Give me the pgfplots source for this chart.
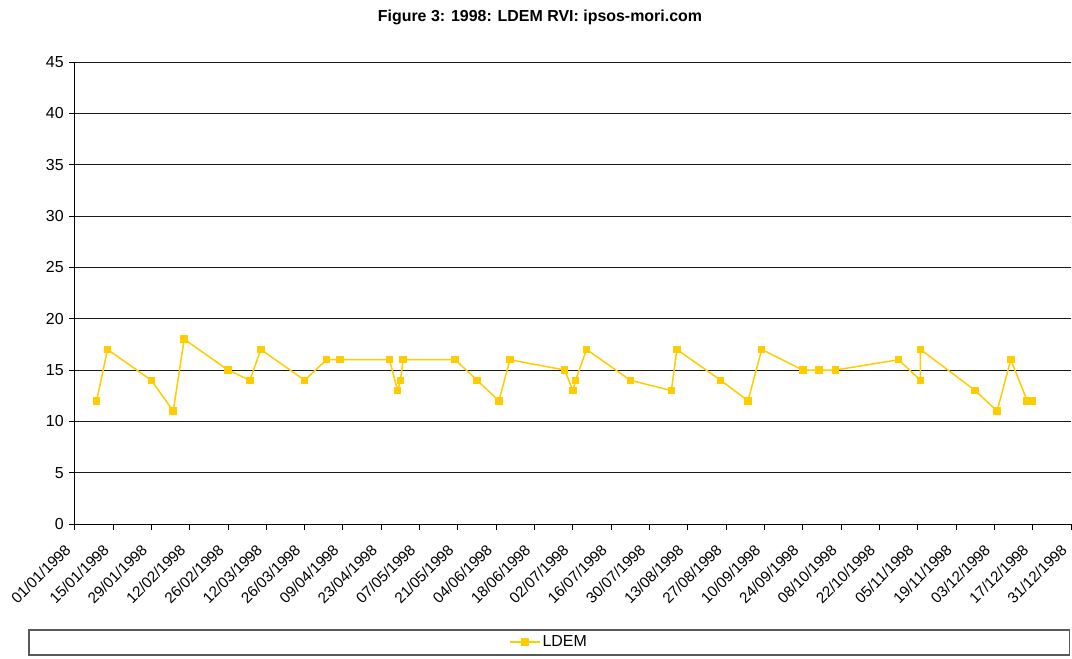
\documentclass[border=0pt]{standalone}
\usepackage{pgfplots}
\pgfplotsset{compat=1.18}
\usepackage{fontspec}
\setmainfont{Liberation Sans}
\definecolor{ldem}{HTML}{FFCC00}
\begin{document}
\begin{tikzpicture}
\useasboundingbox (0,0) rectangle (1072bp,659bp);
\begin{axis}[
  at={(74.7bp,135bp)}, anchor=south west,
  scale only axis, width=996.3bp, height=462bp,
  xmin=0, xmax=364, ymin=0, ymax=45,
  axis x line*=bottom, axis y line*=left,
  axis line style={black, line width=0.9bp},
  tick align=outside, major tick length=5.5bp,
  tick style={black, line width=0.9bp},
  ytick={0,5,...,45},
  xtick={0,14,...,364},
  xticklabels={01/01/1998,15/01/1998,29/01/1998,12/02/1998,26/02/1998,12/03/1998,26/03/1998,09/04/1998,23/04/1998,07/05/1998,21/05/1998,04/06/1998,18/06/1998,02/07/1998,16/07/1998,30/07/1998,13/08/1998,27/08/1998,10/09/1998,24/09/1998,08/10/1998,22/10/1998,05/11/1998,19/11/1998,03/12/1998,17/12/1998,31/12/1998},
  y tick label style={xshift=-2bp, font=\fontsize{16}{18}\selectfont},
  x tick label style={xshift=-11bp, yshift=-12bp, rotate=45, anchor=north east, inner sep=1bp, font=\fontsize{15.3}{17}\selectfont},
  /pgf/number format/assume math mode=true,
  ymajorgrids, grid style={black!90, line width=0.8bp},
  title={Figure 3: 1998: LDEM RVI: ipsos-mori.com},
  title style={at={(0.467,1)}, anchor=center, yshift=39bp, font=\bfseries\fontsize{16}{18}\selectfont},
  legend style={at={(axis description cs:0.476,-0.2554)}, anchor=center, draw=none, fill=none, font=\fontsize{16}{18}\selectfont, inner sep=1bp},
  legend image code/.code={\draw[#1, mark repeat=2, mark phase=2] plot coordinates {(0bp,0bp) (15bp,0bp) (30bp,0bp)};},
  clip=false,
]
\draw[black!65, line width=1.2bp] (axis description cs:-0.0459,-0.2294) rectangle (axis description cs:0.9986,-0.2836);
\addplot[ldem, line width=1.5bp, mark=square*, mark size=3bp, mark options={solid, fill=ldem, draw=ldem}] coordinates {
(8,12) (12,17) (28,14) (36,11) (40,18) (56,15) (64,14) (68,17) (84,14) (92,16) (97,16)
(115,16) (118,13) (119,14) (120,16) (139,16) (147,14) (155,12) (159,16) (179,15) (182,13) (183,14) (187,17) (203,14)
(218,13) (220,17) (236,14) (246,12) (251,17) (266,15) (272,15) (278,15) (301,16)
(309,14) (309,17) (329,13) (337,11) (342,16) (348,12) (350,12)
};
\addlegendentry{LDEM}
\end{axis}
\end{tikzpicture}
\end{document}
